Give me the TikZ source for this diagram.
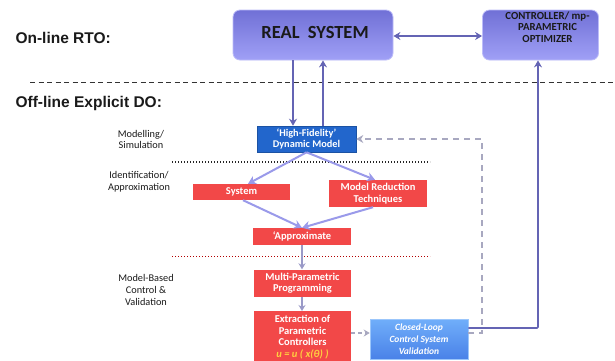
\documentclass[tikz,border=0pt]{standalone}
\usepackage{fontspec}
\setmainfont{Carlito}
\newfontfamily\arialf{Liberation Sans}
\usetikzlibrary{arrows.meta}
\definecolor{purpA}{HTML}{7070D6}
\definecolor{purpB}{HTML}{A0A0F6}
\definecolor{purpLine}{HTML}{6464B4}
\definecolor{lavLine}{HTML}{9A9AEA}
\definecolor{greyLine}{HTML}{9A9AC8}
\definecolor{dashGrey}{HTML}{A8A8C0}
\definecolor{hfBlue}{HTML}{2266CC}
\definecolor{redBox}{HTML}{F24848}
\definecolor{clA}{HTML}{70AEFA}
\definecolor{clB}{HTML}{4A82E8}
\definecolor{txtDark}{HTML}{1A1A1A}
\definecolor{yellowT}{HTML}{FFD040}
\tikzset{
  purplebox/.style={rounded corners=7pt, top color=purpA, bottom color=purpB, draw=purpB!70!white, line width=0.8pt, align=center, font=\bfseries, text=txtDark},
  redbox/.style={fill=redBox, draw=none, align=center, text=white, font=\bfseries\fontsize{10.5}{11.5}\selectfont, inner sep=0pt},
  sidelabel/.style={align=center, font=\fontsize{10.3}{11.8}\selectfont, text=txtDark},
  headlabel/.style={anchor=west, font=\arialf\bfseries\fontsize{15.5}{17}\selectfont, text=txtDark},
  solidarrow/.style={draw=purpLine, line width=1.6pt, -{Stealth[length=7pt,width=8pt]}},
  lavarrow/.style={draw=lavLine, line width=2pt, -{Stealth[length=8pt,width=9pt]}},
  greyarrow/.style={draw=greyLine, line width=1.8pt, -{Stealth[length=6pt,width=7pt]}},
  dasharrow/.style={draw=dashGrey, line width=1.6pt, dash pattern=on 6pt off 5pt},
}
\begin{document}
\begin{tikzpicture}[x=1pt,y=1pt]
\useasboundingbox (0,0) rectangle (615,-360);
\fill[white] (0,0) rectangle (615,-360);

% headings
\node[headlabel] (online) at (12,-38) {On-line RTO:};
\node[headlabel] (offline) at (12,-103) {Off-line Explicit DO:};
\coordinate (dl1) at (30,-82);
\coordinate (dl2) at (615,-82);
\draw[black!80, line width=1pt, dash pattern=on 5pt off 3.5pt] (dl1) -- (dl2);

% top boxes
\node[purplebox, minimum width=160pt, minimum height=50pt] (real) at (313,-35) {};
\node[font=\bfseries\fontsize{18.5}{20}\selectfont, text=txtDark] (realt) at (315,-32) {REAL\ \ SYSTEM};
\node[purplebox, minimum width=116pt, minimum height=50pt] (ctrl) at (540.5,-35) {};
\node[align=center, font=\bfseries\fontsize{10.8}{11.5}\selectfont, text=txtDark] (ctrlt) at (547.5,-27) {CONTROLLER/ mp-\\PARAMETRIC\\OPTIMIZER};
\draw[draw=purpLine, line width=1.6pt, {Stealth[length=7pt,width=8pt]}-{Stealth[length=7pt,width=8pt]}] (real.east |- 0,-36) -- (ctrl.west |- 0,-36);

% high-fidelity
\node[fill=hfBlue, draw=hfBlue!80!black, line width=0.6pt, minimum width=99pt, minimum height=26pt, inner sep=0pt, align=center, text=white, font=\bfseries\fontsize{10.3}{11.3}\selectfont] (hf) at (306.5,-139) {`High-Fidelity'\\Dynamic Model};
\draw[solidarrow] (real.south -| 293,0) -- (hf.north -| 293,0);
\draw[solidarrow] (hf.north -| 323,0) -- (real.south -| 323,0);

% side labels
\node[sidelabel] (lab1) at (141,-139.5) {Modelling/\\Simulation};
\node[sidelabel] (lab2) at (139,-182) {Identification/\\Approximation};
\node[sidelabel] (lab3) at (146,-290) {Model-Based\\Control \&\\Validation};

% separator lines
\coordinate (s1a) at (172,-162);
\coordinate (s1b) at (430,-162);
\draw[black!85, line width=1.2pt, dash pattern=on 1.3pt off 1.7pt] (s1a) -- (s1b);
\coordinate (s2a) at (172,-256);
\coordinate (s2b) at (430,-256);
\draw[red!70!black, line width=1pt, dash pattern=on 1.2pt off 1.8pt] (s2a) -- (s2b);

% red boxes
\node[redbox, minimum width=97pt, minimum height=16pt] (sys) at (241.5,-192) {System};
\node[redbox, minimum width=98pt, minimum height=27pt] (mrt) at (378,-193.5) {Model Reduction\\Techniques};
\node[redbox, minimum width=98pt, minimum height=17pt] (appr) at (302,-236.5) {`Approximate};
\node[redbox, minimum width=97pt, minimum height=27pt] (mpp) at (302.5,-283) {Multi-Parametric\\Programming};
\node[redbox, minimum width=97pt, minimum height=52pt, anchor=north, font=\bfseries\fontsize{10.5}{11.6}\selectfont] (ext) at (302.5,-311) {Extraction of\\Parametric\\Controllers\\{\color{yellowT}\itshape u = u ( x(θ) )}};

% closed-loop
\node[top color=clA, bottom color=clB, draw=clA!70!white, line width=0.5pt, minimum width=98pt, minimum height=40pt, inner sep=0pt, align=center, text=white, font=\bfseries\itshape\fontsize{9.5}{12}\selectfont] (cl) at (419,-339) {Closed-Loop\\Control System\\Validation};

% internal arrows
\draw[lavarrow] (hf.south) -- (sys.north -| 248,0);
\draw[lavarrow] (hf.south) -- (mrt.north -| 375,0);
\draw[lavarrow] (sys.south -| 243,0) -- (appr.north -| 302,0);
\draw[lavarrow] (mrt.south -| 373,0) -- (appr.north -| 302,0);
\draw[greyarrow] (appr.south -| 302,0) -- (mpp.north -| 302,0);
\draw[greyarrow] (mpp.south -| 302,0) -- (ext.north -| 302,0);
\draw[draw=dashGrey, line width=1.8pt, dash pattern=on 4pt off 3pt, -{Stealth[length=6pt,width=7pt]}] (ext.east |- 0,-333) -- (cl.west |- 0,-333);

% feedback to controller
\coordinate (fb1) at (538,-328);
\draw[solidarrow, rounded corners=1pt] (cl.east |- fb1) -- (fb1) -- (ctrl.south -| fb1);

% dashed feedback to model
\coordinate (dd1) at (482,-333);
\coordinate (dd2) at (482,-139);
\draw[dasharrow, -{Stealth[length=7pt,width=8pt]}] (cl.east |- dd1) -- (dd1) -- (dd2) -- (hf.east |- dd2);
\end{tikzpicture}
\end{document}
